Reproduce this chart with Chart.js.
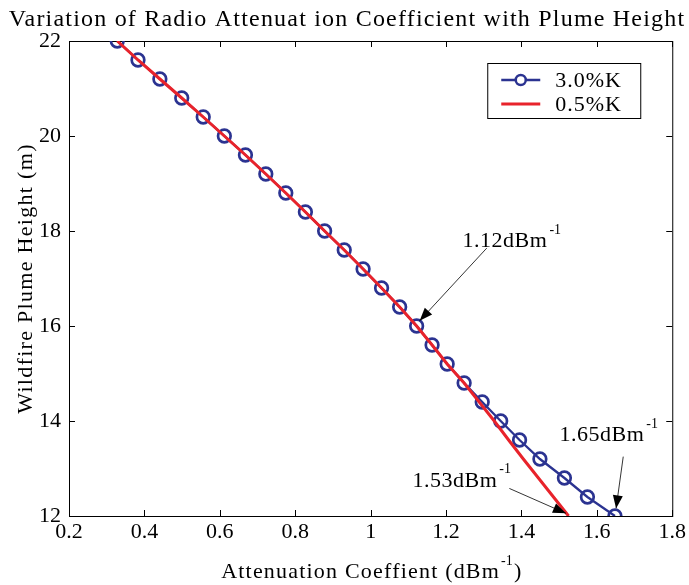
<!DOCTYPE html>
<html>
<head>
<meta charset="utf-8">
<script src="https://cdn.jsdelivr.net/npm/chart.js@4"></script>
<style>
  html, body { margin: 0; padding: 0; background: #fff; }
</style>
</head>
<body>
<canvas id="chart" width="689" height="585"></canvas>
<script>
// plume heights (m), shared by both series
const heights = [22, 21.6, 21.2, 20.8, 20.4, 20, 19.6, 19.2, 18.8, 18.4, 18, 17.6, 17.2,
                 16.8, 16.4, 16, 15.6, 15.2, 14.8, 14.4, 14, 13.6, 13.2, 12.8, 12.4, 12];
// attenuation coefficient (dB/m)
const coef30 = [0.328, 0.383, 0.441, 0.499, 0.556, 0.612, 0.668, 0.722, 0.775, 0.827, 0.878,
                0.930, 0.980, 1.029, 1.077, 1.122, 1.163, 1.203, 1.248, 1.296, 1.345, 1.395,
                1.449, 1.514, 1.575, 1.648];
const coef05 = [0.328, 0.383, 0.441, 0.499, 0.556, 0.612, 0.668, 0.722, 0.775, 0.827, 0.878,
                0.930, 0.980, 1.029, 1.077, 1.122, 1.163, 1.203, 1.248, 1.288, 1.328, 1.366,
                1.405, 1.445, 1.485, 1.525];
const seriesNames = ['3.0%K', '0.5%K'];
const xTicks = [0.2, 0.4, 0.6, 0.8, 1, 1.2, 1.4, 1.6, 1.8];
const yTicks = [12, 14, 16, 18, 20, 22];

// annotations: label anchor (left, baseline), arrow tail, arrow tip — in data units
const notes = [
  { text: '1.12dBm', label: [1.244, 17.66], from: [1.308, 17.64], to: [1.130, 16.11] },
  { text: '1.65dBm', label: [1.501, 13.585], from: [1.670, 13.25], to: [1.651, 12.16] },
  { text: '1.53dBm', label: [1.111, 12.617], from: [1.368, 12.58], to: [1.518, 12.056] }
];

const BLUE = '#2b3391';
const RED = '#e8232b';
const FONT = "'Liberation Serif', 'Times New Roman', serif";

function toPts(xs) {
  return xs.map((v, i) => ({ x: v, y: heights[i] }));
}

function supText(ctx, text, x, y, size) {
  ctx.font = size + 'px ' + FONT;
  ctx.letterSpacing = '0.5px';
  ctx.fillText(text, x, y);
  const w = ctx.measureText(text).width;
  ctx.letterSpacing = '0px';
  ctx.font = Math.round(size * 0.65) + 'px ' + FONT;
  ctx.fillText('-1', x + w + 2, y - size * 0.6);
}

function arrow(ctx, x1, y1, x2, y2) {
  ctx.beginPath();
  ctx.moveTo(x1, y1);
  ctx.lineTo(x2, y2);
  ctx.stroke();
  const a = Math.atan2(y2 - y1, x2 - x1);
  const L = 13, W = 5;
  ctx.beginPath();
  ctx.moveTo(x2, y2);
  ctx.lineTo(x2 - L * Math.cos(a) + W * Math.sin(a), y2 - L * Math.sin(a) - W * Math.cos(a));
  ctx.lineTo(x2 - L * Math.cos(a) - W * Math.sin(a), y2 - L * Math.sin(a) + W * Math.cos(a));
  ctx.closePath();
  ctx.fill();
}

// box, inward ticks, titles
const framePlugin = {
  id: 'frame',
  beforeDatasetsDraw(chart) {
    const { ctx, chartArea: a, scales } = chart;
    ctx.save();
    ctx.strokeStyle = '#000';
    ctx.lineWidth = 1;
    ctx.strokeRect(a.left + 0.5, a.top + 0.5, a.right - a.left, a.bottom - a.top);
    const tl = 6;
    ctx.beginPath();
    xTicks.forEach(v => {
      const px = Math.round(scales.x.getPixelForValue(v)) + 0.5;
      ctx.moveTo(px, a.bottom); ctx.lineTo(px, a.bottom - tl);
      ctx.moveTo(px, a.top); ctx.lineTo(px, a.top + tl);
    });
    yTicks.forEach(v => {
      const py = Math.round(scales.y.getPixelForValue(v)) + 0.5;
      ctx.moveTo(a.left, py); ctx.lineTo(a.left + tl, py);
      ctx.moveTo(a.right, py); ctx.lineTo(a.right - tl, py);
    });
    ctx.stroke();
    ctx.restore();
  },
  afterDraw(chart) {
    const { ctx, chartArea: a, scales } = chart;
    ctx.save();
    ctx.fillStyle = '#000';
    // title
    ctx.font = '24px ' + FONT;
    ctx.letterSpacing = '1.2px';
    ctx.textAlign = 'center';
    ctx.textBaseline = 'alphabetic';
    ctx.fillText('Variation of Radio Attenuat ion Coefficient with Plume Height', 347, 26);
    // y title
    ctx.save();
    ctx.translate(32, (a.top + a.bottom) / 2);
    ctx.rotate(-Math.PI / 2);
    ctx.font = '22px ' + FONT;
    ctx.letterSpacing = '1.3px';
    ctx.fillText('Wildfire Plume Height (m)', 0, 0);
    ctx.restore();
    // x title
    ctx.textAlign = 'left';
    ctx.font = '22px ' + FONT;
    ctx.letterSpacing = '1.2px';
    const xt = 'Attenuation Coeffient (dBm';
    const w = ctx.measureText(xt).width;
    const x0 = (a.left + a.right) / 2 - (w + 20) / 2;
    ctx.fillText(xt, x0, 578);
    ctx.letterSpacing = '0px';
    ctx.font = '14px ' + FONT;
    ctx.fillText('-1', x0 + w + 1, 565);
    ctx.font = '22px ' + FONT;
    ctx.fillText(')', x0 + w + 14, 578);

    // annotations
    ctx.strokeStyle = '#000';
    ctx.lineWidth = 0.8;
    notes.forEach(n => {
      const sx = v => scales.x.getPixelForValue(v);
      const sy = v => scales.y.getPixelForValue(v);
      supText(ctx, n.text, sx(n.label[0]), sy(n.label[1]), 22);
      arrow(ctx, sx(n.from[0]), sy(n.from[1]), sx(n.to[0]), sy(n.to[1]));
    });

    // legend
    const bx = a.right - 185, by = a.top + 22, bw = 153, bh = 55;
    ctx.fillStyle = '#fff';
    ctx.fillRect(bx, by, bw, bh);
    ctx.lineWidth = 1;
    ctx.strokeRect(bx + 0.5, by + 0.5, bw, bh);
    const rows = [[BLUE, true], [RED, false]];
    rows.forEach((r, i) => {
      const ly = by + 17 + i * 24;
      ctx.strokeStyle = r[0];
      ctx.lineWidth = r[1] ? 2.3 : 3;
      ctx.beginPath();
      ctx.moveTo(bx + 14, ly); ctx.lineTo(bx + 53, ly);
      ctx.stroke();
      if (r[1]) {
        ctx.lineWidth = 2.5;
        ctx.fillStyle = '#fff';
        ctx.beginPath();
        ctx.arc(bx + 33.5, ly, 5, 0, Math.PI * 2);
        ctx.fill();
        ctx.stroke();
      }
      ctx.fillStyle = '#000';
      ctx.font = '22px ' + FONT;
      ctx.letterSpacing = '1px';
      ctx.textBaseline = 'middle';
      ctx.fillText(seriesNames[i], bx + 68, ly + 1);
    });
    ctx.restore();
  }
};

new Chart(document.getElementById('chart'), {
  type: 'line',
  data: {
    datasets: [
      {
        label: seriesNames[0],
        data: toPts(coef30),
        borderColor: BLUE,
        borderWidth: 2.3,
        pointRadius: 6.3,
        pointBorderWidth: 2.7,
        pointBorderColor: BLUE,
        pointBackgroundColor: 'rgba(255,255,255,0)',
        tension: 0,
        order: 1
      },
      {
        label: seriesNames[1],
        data: toPts(coef05),
        borderColor: RED,
        borderWidth: 3,
        pointRadius: 0,
        tension: 0,
        order: 0
      }
    ]
  },
  plugins: [framePlugin],
  options: {
    responsive: false,
    animation: false,
    maintainAspectRatio: false,
    layout: { padding: { left: 0, right: 16, top: 41, bottom: 0 } },
    plugins: { legend: { display: false }, tooltip: { enabled: false } },
    scales: {
      x: {
        type: 'linear',
        min: 0.2, max: 1.8,
        afterBuildTicks: s => { s.ticks = xTicks.map(v => ({ value: v })); },
        afterFit: s => { s.height = 69; },
        grid: { display: false, drawTicks: false },
        border: { display: false },
        ticks: {
          padding: 3,
          color: '#000',
          maxRotation: 0,
          font: { family: FONT, size: 22 },
          callback: v => String(Number(v.toFixed(1)))
        }
      },
      y: {
        type: 'linear',
        min: 12, max: 22,
        afterBuildTicks: s => { s.ticks = yTicks.map(v => ({ value: v })); },
        afterFit: s => { s.width = 69; },
        grid: { display: false, drawTicks: false },
        border: { display: false },
        ticks: {
          padding: 8,
          color: '#000',
          font: { family: FONT, size: 22 }
        }
      }
    }
  }
});
</script>
</body>
</html>
